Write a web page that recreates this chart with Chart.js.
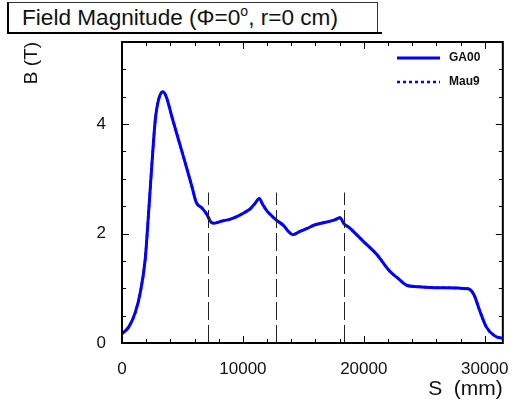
<!DOCTYPE html>
<html>
<head>
<meta charset="utf-8">
<script src="https://cdn.jsdelivr.net/npm/chart.js@4"></script>
<style>
  body { margin: 0; background: #fff; }
  #wrap { position: relative; width: 517px; height: 402px; }
  #title {
    position: absolute; left: 7px; top: 2px; width: 355px; height: 29px;
    border-top: 1px solid #333; border-right: 1px solid #333;
    border-left: 2px solid #000; border-bottom: 2px solid #000;
    font: 22.6px "Liberation Sans", Arial, sans-serif; color: #111;
    padding-left: 13px; line-height: 30px; white-space: nowrap; background: #fff;
  }
  #title::after {
    content: ""; position: absolute; right: -5px; bottom: -2px; width: 5px; height: 2px; background: #000;
  }
  #title sup { font-size: 14px; vertical-align: 9px; line-height: 0; }
</style>
</head>
<body>
<div id="wrap">
  <canvas id="fieldChart" width="517" height="402"></canvas>
  <div id="title">Field Magnitude (Φ=0<sup>o</sup>, r=0 cm)</div>
</div>
<script>
// Position along the beam line (mm) and field magnitude (T)
const sValues = [0, 550, 1100, 1510, 1920, 2200, 2480, 2750, 3020, 3380, 3660, 4130, 4680, 5230, 5780,
    6140, 6600, 7020, 7350, 7600, 8300, 8900, 9500, 10100, 10600, 11000, 11360, 11640, 11970, 12400,
    12740, 13350, 13760, 14120, 14720, 15280, 15960, 16930, 17600, 18030, 18360, 18850, 19130, 19950,
    21060, 22150, 22840, 23590, 24360, 26280, 28620, 29090, 29590, 30140, 30830, 31460];
const ga00Values = [0.17, 0.29, 0.56, 0.92, 1.53, 2.38, 3.29, 4.07, 4.44, 4.59, 4.50, 4.13, 3.71, 3.29, 2.86,
    2.57, 2.47, 2.35, 2.21, 2.19, 2.23, 2.26, 2.31, 2.38, 2.45, 2.55, 2.64, 2.53, 2.42, 2.32,
    2.25, 2.15, 2.04, 1.98, 2.04, 2.09, 2.16, 2.21, 2.25, 2.29, 2.18, 2.10, 2.04, 1.86,
    1.62, 1.31, 1.18, 1.05, 1.03, 1.01, 0.99, 0.89, 0.59, 0.29, 0.13, 0.085];
// Mau9 lies under GA00 everywhere
const mau9Values = ga00Values.slice();

const xTicks = [0, 10000, 20000, 30000];
const yTicks = [0, 2, 4];
const markerS = [7100, 12750, 18400]; // dashed vertical markers
const markerTop = 2.75;

const xMax = 31500, yMax = 5.5;

function toPoints(ys) {
    return sValues.map((s, i) => ({ x: s, y: ys[i] }));
}

// frame, inward ticks, dashed markers and the legend
const decorPlugin = {
    id: "decor",
    afterDatasetsDraw(chart) {
        const ctx = chart.ctx;
        const { left, right, top, bottom } = chart.chartArea;
        const xs = chart.scales.x, ys = chart.scales.y;

        ctx.save();
        // dashed markers
        ctx.strokeStyle = "#222";
        ctx.lineWidth = 1;
        ctx.setLineDash([18, 5]);
        markerS.forEach(s => {
            const px = Math.round(xs.getPixelForValue(s)) + 0.5;
            ctx.beginPath();
            ctx.moveTo(px, bottom);
            ctx.lineTo(px, ys.getPixelForValue(markerTop));
            ctx.stroke();
        });
        ctx.setLineDash([]);

        // ticks
        ctx.strokeStyle = "#000";
        ctx.lineWidth = 1;
        for (let v = 0; v <= xMax; v += 2000) {
            const px = Math.round(xs.getPixelForValue(v)) + 0.5;
            const len = v % 10000 === 0 ? 7 : 4;
            ctx.beginPath();
            ctx.moveTo(px, bottom); ctx.lineTo(px, bottom - len);
            ctx.moveTo(px, top); ctx.lineTo(px, top + len);
            ctx.stroke();
        }
        for (let v = 0; v <= yMax; v += 0.5) {
            const py = Math.round(ys.getPixelForValue(v)) + 0.5;
            const len = v % 2 === 0 ? 7 : 4;
            ctx.beginPath();
            ctx.moveTo(left, py); ctx.lineTo(left + len, py);
            ctx.moveTo(right, py); ctx.lineTo(right - len, py);
            ctx.stroke();
        }

        // frame
        ctx.lineWidth = 2;
        ctx.strokeRect(left, top, right - left, bottom - top);

        // legend
        const rows = [58, 82];
        ctx.font = "bold 12px 'Liberation Sans', Arial, sans-serif";
        ctx.textBaseline = "middle";
        chart.data.datasets.forEach((ds, i) => {
            const y = rows[i];
            ctx.strokeStyle = ds.borderColor;
            ctx.lineWidth = i === 0 ? 3 : 2.5;
            ctx.setLineDash(ds.borderDash || []);
            ctx.beginPath();
            ctx.moveTo(397, y); ctx.lineTo(440, y);
            ctx.stroke();
            ctx.setLineDash([]);
            ctx.fillStyle = "#111";
            ctx.fillText(ds.label, 449, y);
        });
        ctx.restore();
    }
};

const ctx = document.getElementById("fieldChart").getContext("2d");
const chart = new Chart(ctx, {
    type: "line",
    data: {
        datasets: [{
            label: "GA00",
            data: toPoints(ga00Values),
            borderColor: "#0000ff",
            borderWidth: 3,
            pointRadius: 0,
            cubicInterpolationMode: "monotone",
            order: 1
        }, {
            label: "Mau9",
            data: toPoints(mau9Values),
            borderColor: "#0000ff",
            borderWidth: 2.5,
            borderDash: [3, 3],
            pointRadius: 0,
            cubicInterpolationMode: "monotone",
            order: 2
        }]
    },
    options: {
        responsive: false,
        animation: false,
        layout: { padding: { left: 0, top: 42, right: 14, bottom: 0 } },
        plugins: { legend: { display: false }, tooltip: { enabled: false } },
        scales: {
            x: {
                type: "linear",
                min: 0,
                max: xMax,
                grid: { display: false },
                border: { display: false },
                afterBuildTicks: s => { s.ticks = xTicks.map(v => ({ value: v })); },
                afterFit: s => { s.height = 59; },
                ticks: {
                    padding: 8,
                    maxRotation: 0,
                    color: "#111",
                    font: { family: "'Liberation Sans', Arial, sans-serif", size: 17 },
                    callback: v => String(v)
                },
                title: {
                    display: true,
                    text: "S  (mm)",
                    align: "end",
                    color: "#111",
                    padding: { top: 4, bottom: 0 },
                    font: { family: "'Liberation Sans', Arial, sans-serif", size: 21 }
                }
            },
            y: {
                type: "linear",
                min: 0,
                max: yMax,
                grid: { display: false },
                border: { display: false },
                afterBuildTicks: s => { s.ticks = yTicks.map(v => ({ value: v })); },
                afterFit: s => { s.width = 122; },
                ticks: {
                    padding: 8,
                    color: "#111",
                    font: { family: "'Liberation Sans', Arial, sans-serif", size: 17 }
                },
                title: {
                    display: true,
                    text: "B (T)",
                    align: "end",
                    color: "#111",
                    padding: { top: 20, bottom: 0 },
                    font: { family: "'Liberation Sans', Arial, sans-serif", size: 19 }
                }
            }
        }
    },
    plugins: [decorPlugin]
});
</script>
</body>
</html>
